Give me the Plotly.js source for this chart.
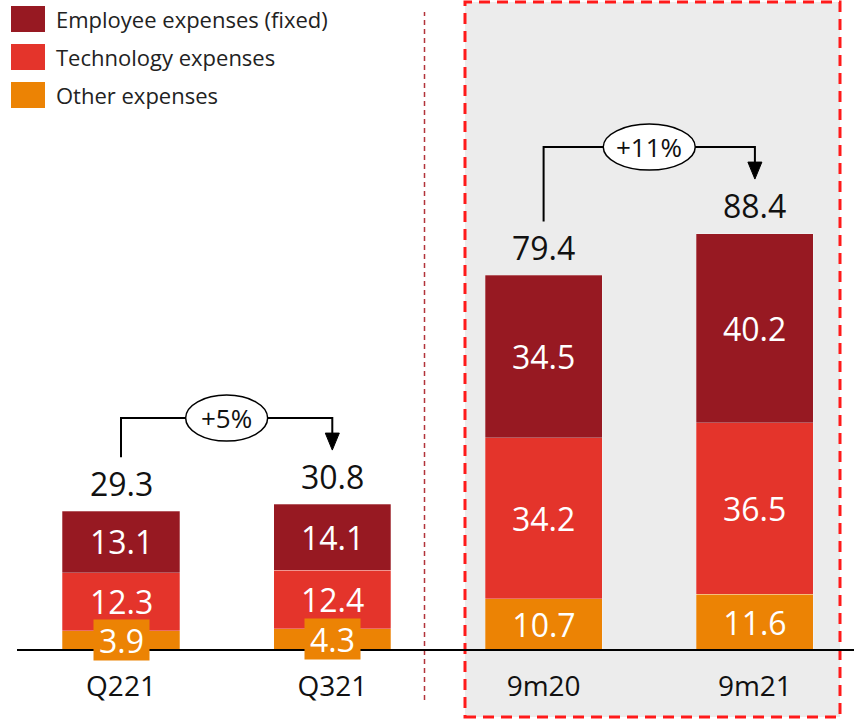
<!DOCTYPE html>
<html>
<head>
<meta charset="utf-8">
<script src="https://cdn.plot.ly/plotly-3.0.1.min.js"></script>
<style>html,body{margin:0;padding:0;background:#fff;}#chart{width:854px;height:721px;}</style>
</head>
<body>
<div id="chart"></div>
<script>
// ---- data ----
const categories = ['Q221', 'Q321', '9m20', '9m21'];
const otherExp = [3.9, 4.3, 10.7, 11.6];
const techExp = [12.3, 12.4, 34.2, 36.5];
const employeeExp = [13.1, 14.1, 34.5, 40.2];
const totals = [29.3, 30.8, 79.4, 88.4];
const seriesNames = ['Employee expenses (fixed)', 'Technology expenses', 'Other expenses'];
const growthLabels = ['+5%', '+11%'];

// ---- styling ----
const FONT = 'Open Sans, Noto Sans, sans-serif';
const C_EMP = '#971922', C_TECH = '#E4342B', C_OTHER = '#EC8304';
const colors = [C_EMP, C_TECH, C_OTHER];
const xIdx = categories.map((_, i) => i);

// pixel geometry of the plot area
const L = 17, PW = 837, PH = 649;
const pxPerX = 211.3, pxPerY = 4.705;
const xMin = -(121 - L) / pxPerX;
const xMax = xMin + PW / pxPerX;
const yMax = PH / pxPerY;

const barLine = {width: 0.8, color: 'rgba(255,255,255,0.35)'};
const traces = [
  {type: 'bar', name: seriesNames[2], x: xIdx, y: otherExp, marker: {color: C_OTHER, line: barLine}, width: 0.554, hoverinfo: 'skip', showlegend: false},
  {type: 'bar', name: seriesNames[1], x: xIdx, y: techExp, marker: {color: C_TECH, line: barLine}, width: 0.554, hoverinfo: 'skip', showlegend: false},
  {type: 'bar', name: seriesNames[0], x: xIdx, y: employeeExp, marker: {color: C_EMP, line: barLine}, width: 0.554, hoverinfo: 'skip', showlegend: false}
];

const annotations = [];
const shapes = [];

// shaded highlight box for 9m figures and separator
const px2paperX = p => (p - L) / PW;
const px2paperY = p => (PH - p) / PH;
shapes.push({type: 'rect', xref: 'paper', yref: 'paper', layer: 'below',
  x0: px2paperX(465), x1: px2paperX(840), y0: px2paperY(717), y1: px2paperY(2),
  fillcolor: '#ECECEC', line: {color: '#FF1A1A', width: 3, dash: '11px,7px'}});
shapes.push({type: 'line', xref: 'paper', yref: 'paper', layer: 'below',
  x0: px2paperX(424.5), x1: px2paperX(424.5), y0: px2paperY(700), y1: px2paperY(12),
  line: {color: '#B2333A', width: 1.5, dash: '5px,4px'}});

// segment labels
const LBL = 32;
xIdx.forEach(i => {
  annotations.push({x: i, y: otherExp[i] + techExp[i] + employeeExp[i] / 2, text: String(employeeExp[i]),
    showarrow: false, font: {family: FONT, size: LBL, color: '#fff'}});
  annotations.push({x: i, y: otherExp[i] + techExp[i] / 2, text: String(techExp[i]),
    showarrow: false, font: {family: FONT, size: LBL, color: '#fff'}});
  const t = String(otherExp[i]);
  annotations.push({x: i, y: otherExp[i] / 2, text: t,
    showarrow: false, bgcolor: C_OTHER, borderpad: 0, width: t.length <= 3 ? 55 : 72, height: 40,
    font: {family: FONT, size: LBL, color: '#fff'}});
  annotations.push({x: i, y: totals[i], yshift: 28, text: String(totals[i]),
    showarrow: false, font: {family: FONT, size: LBL, color: '#111'}});
});

// growth connectors
const pairs = [[0, 1], [2, 3]];
const ellW = [82, 92];
pairs.forEach(([a, b], k) => {
  const startY = totals[a] + 54 / pxPerY;
  const lineY = Math.max(totals[a], totals[b]) + 86 / pxPerY;
  const tipY = totals[b] + 54 / pxPerY;
  const baseY = tipY + 17 / pxPerY;
  const hw = 7 / pxPerX;
  shapes.push({type: 'path', layer: 'above', xref: 'x', yref: 'y',
    path: `M${a},${startY} L${a},${lineY} L${b},${lineY} L${b},${baseY}`,
    line: {color: '#000', width: 2}});
  shapes.push({type: 'path', layer: 'above', xref: 'x', yref: 'y',
    path: `M${b - hw},${baseY} L${b + hw},${baseY} L${b},${tipY} Z`,
    fillcolor: '#000', line: {color: '#000', width: 1}});
  const mid = (a + b) / 2;
  const rw = ellW[k] / 2 / pxPerX, rh = 23 / pxPerY;
  shapes.push({type: 'circle', layer: 'above', xref: 'x', yref: 'y',
    x0: mid - rw, x1: mid + rw, y0: lineY - rh, y1: lineY + rh,
    fillcolor: '#fff', line: {color: '#000', width: 1.5}});
  annotations.push({x: mid, y: lineY, text: growthLabels[k], showarrow: false,
    font: {family: FONT, size: 26, color: '#111'}});
});

// custom legend
const legRowsY = [19, 57, 95];
seriesNames.forEach((name, j) => {
  const cy = legRowsY[j];
  shapes.push({type: 'rect', xref: 'paper', yref: 'paper', layer: 'above',
    x0: px2paperX(11), x1: px2paperX(45), y0: px2paperY(cy + 13), y1: px2paperY(cy - 13),
    fillcolor: colors[j], line: {width: 0}});
  annotations.push({xref: 'paper', yref: 'paper', x: px2paperX(54), y: px2paperY(cy),
    xanchor: 'left', yanchor: 'middle', text: name, showarrow: false,
    font: {family: FONT, size: 22, color: '#222'}});
});

const layout = {
  width: 854, height: 721,
  margin: {l: L, r: 0, t: 0, b: 721 - PH},
  paper_bgcolor: '#fff', plot_bgcolor: 'rgba(0,0,0,0)',
  barmode: 'stack', showlegend: false,
  font: {family: FONT, color: '#111'},
  xaxis: {range: [xMin, xMax], tickvals: xIdx, ticktext: categories, showgrid: false, zeroline: false,
    showline: true, linecolor: '#000', linewidth: 1.5, ticks: '', ticklabelstandoff: 12,
    tickfont: {family: FONT, size: 28, color: '#111'}, fixedrange: true},
  yaxis: {range: [0, yMax], visible: false, fixedrange: true},
  shapes: shapes,
  annotations: annotations
};

Plotly.newPlot('chart', traces, layout, {staticPlot: true, displayModeBar: false});
</script>
</body>
</html>
